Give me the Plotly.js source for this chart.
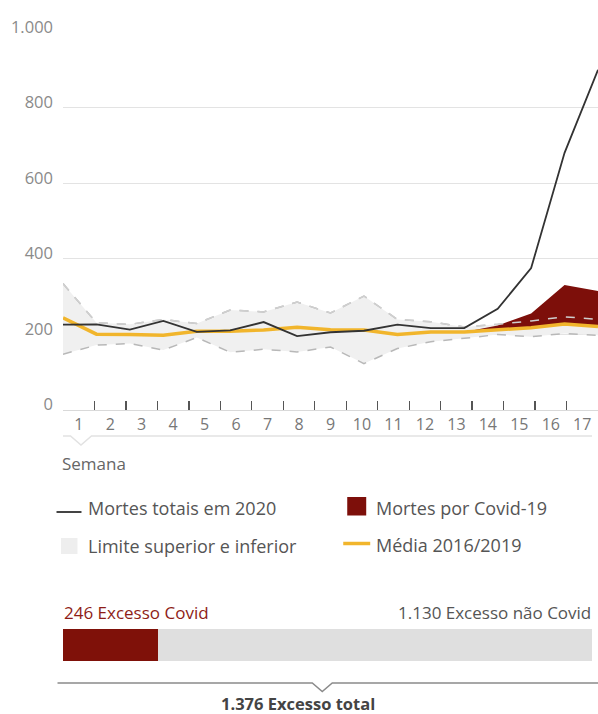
<!DOCTYPE html>
<html>
<head>
<meta charset="utf-8">
<script src="https://cdn.plot.ly/plotly-3.0.1.min.js"></script>
<style>
  html, body { margin: 0; padding: 0; background: #ffffff; }
  #chart { width: 598px; height: 714px; }
</style>
</head>
<body>
<div id="chart"></div>
<script>
// ---- data ----
const weeks = [1, 2, 3, 4, 5, 6, 7, 8, 9, 10, 11, 12, 13, 14, 15, 16, 17];
const weekLabels = ["1", "2", "3", "4", "5", "6", "7", "8", "9", "10", "11", "12", "13", "14", "15", "16", "17"];
const deaths2020 = [225, 226, 212, 235, 206, 210, 232, 195, 205, 209, 225, 216, 216, 267, 375, 680, 900];
const upperLimit = [334, 230, 226, 239, 228, 264, 259, 285, 256, 301, 239, 233, 219, 226, 235, 246, 239];
const lowerLimit = [147, 171, 175, 158, 191, 152, 160, 153, 166, 122, 162, 180, 189, 199, 193, 202, 197];
const average1619 = [243, 200, 199, 197, 208, 208, 211, 218, 212, 211, 199, 206, 206, 212, 217, 227, 220];
const covidDeaths = [0, 0, 0, 0, 0, 0, 0, 0, 0, 0, 0, 0, 0, 11, 38, 103, 94];
const yTickVals = [0, 200, 400, 600, 800, 1000];
const yTickText = ["0", "200", "400", "600", "800", "1.000"];
const excessCovid = 246;
const excessNonCovid = 1130;
const excessTotal = 1376;

// ---- geometry helpers (pixel -> paper) ----
const W = 598, H = 714;
const M = { l: 62.5, r: 0, t: 32, b: 6 };
const PW = W - M.l - M.r, PH = H - M.t - M.b;
const px = x => (x - M.l) / PW;
const py = y => (H - M.b - y) / PH;
const path = pts => pts.map((p, i) => (i ? 'L' : 'M') + px(p[0]).toFixed(5) + ',' + py(p[1]).toFixed(5)).join(' ');

const RED = '#7d0f0a';
const YELLOW = '#f1b52c';
const BAND = '#f0f0f0';
const DASH = '#b8b8b8';

// red area only where covid deaths exist (from week 13)
const startIdx = 12;
const redX = weeks.slice(startIdx);
const redBase = average1619.slice(startIdx);
const redTop = redBase.map((v, i) => v + covidDeaths[startIdx + i]);

const traces = [
  { x: weeks, y: lowerLimit, type: 'scatter', mode: 'lines', line: { color: DASH, width: 1.5, dash: 'dash' }, hoverinfo: 'skip', showlegend: false },
  { x: weeks, y: upperLimit, type: 'scatter', mode: 'lines', fill: 'tonexty', fillcolor: BAND, line: { color: DASH, width: 1.5, dash: 'dash' }, hoverinfo: 'skip', showlegend: false },
  { x: redX, y: redBase, type: 'scatter', mode: 'lines', line: { width: 0, color: RED }, hoverinfo: 'skip', showlegend: false },
  { x: redX, y: redTop, type: 'scatter', mode: 'lines', fill: 'tonexty', fillcolor: RED, line: { width: 0, color: RED }, hoverinfo: 'skip', showlegend: false },
  { x: weeks, y: upperLimit, type: 'scatter', mode: 'lines', line: { color: '#cfcfcf', width: 1.5, dash: 'dash' }, hoverinfo: 'skip', showlegend: false },
  { x: weeks, y: average1619, type: 'scatter', mode: 'lines', line: { color: YELLOW, width: 3.5 }, hoverinfo: 'skip', showlegend: false },
  { x: weeks, y: deaths2020, type: 'scatter', mode: 'lines', line: { color: '#333333', width: 1.8 }, hoverinfo: 'skip', showlegend: false },
  // category axis carrier for week labels
  { x: weekLabels, y: lowerLimit, xaxis: 'x2', yaxis: 'y', type: 'scatter', mode: 'markers', marker: { opacity: 0, size: 1 }, hoverinfo: 'skip', showlegend: false },
  // bottom excess bar
  { x: [excessCovid], y: ['excesso'], xaxis: 'x3', yaxis: 'y3', type: 'bar', orientation: 'h', marker: { color: '#7f1109', line: { width: 0 } }, hoverinfo: 'skip', showlegend: false },
  { x: [excessNonCovid], y: ['excesso'], xaxis: 'x3', yaxis: 'y3', type: 'bar', orientation: 'h', marker: { color: '#dfdfdf', line: { width: 0 } }, hoverinfo: 'skip', showlegend: false }
];

const FONT = '"Open Sans", "Noto Sans", sans-serif';
const ann = (x, y, text, opts) => Object.assign({
  x: px(x), y: py(y), xref: 'paper', yref: 'paper', text: text, showarrow: false,
  xanchor: 'left', yanchor: 'middle', font: { family: FONT, size: 18, color: '#555555' }
}, opts || {});

const layout = {
  width: W, height: H,
  margin: M,
  paper_bgcolor: '#ffffff', plot_bgcolor: 'rgba(0,0,0,0)',
  showlegend: false,
  barmode: 'stack', bargap: 0,
  font: { family: FONT, color: '#555555' },
  xaxis: { domain: [0, 1], range: [1, 17], visible: false, fixedrange: true },
  xaxis2: {
    type: 'category', overlaying: 'x', anchor: 'y', side: 'bottom',
    categoryorder: 'array', categoryarray: weekLabels, range: [-0.5, 16.5],
    tickson: 'boundaries', ticks: 'inside', ticklen: 9, tickcolor: '#555555', tickwidth: 1.3,
    showline: true, linecolor: '#d9d9d9', linewidth: 1.5, showgrid: false, zeroline: false,
    tickfont: { family: FONT, size: 16, color: '#777777' }, ticklabelstandoff: 0, fixedrange: true
  },
  yaxis: {
    domain: [py(409.7), 1], range: [0, 1000],
    tickmode: 'array', tickvals: yTickVals, ticktext: yTickText,
    showgrid: true, gridcolor: '#e3e3e3', gridwidth: 1, zeroline: false, showline: false, ticks: '',
    tickfont: { family: FONT, size: 16.5, color: '#8a8a8a' }, ticklabelstandoff: 9, ticklabelshift: -5, fixedrange: true
  },
  xaxis3: { domain: [0, px(592)], range: [0, excessTotal], anchor: 'y3', visible: false, fixedrange: true },
  yaxis3: { domain: [py(661), py(629)], range: [-0.5, 0.5], anchor: 'x3', visible: false, fixedrange: true },
  shapes: [
    // pointer line under week labels
    { type: 'path', xref: 'paper', yref: 'paper', path: path([[62.5, 436], [70, 436], [80.5, 445], [91, 436], [592, 436]]), line: { color: '#e2e2e2', width: 1.5 } },
    // legend symbols
    { type: 'line', xref: 'paper', yref: 'paper', x0: px(56), x1: px(81), y0: py(512), y1: py(512), line: { color: '#444444', width: 2 } },
    { type: 'rect', xref: 'paper', yref: 'paper', x0: px(347), x1: px(366), y0: py(515.5), y1: py(497), fillcolor: RED, line: { width: 0 } },
    { type: 'rect', xref: 'paper', yref: 'paper', x0: px(60.5), x1: px(77), y0: py(554), y1: py(538), fillcolor: '#eeeeee', line: { width: 0 } },
    { type: 'line', xref: 'paper', yref: 'paper', x0: px(343), x1: px(370), y0: py(543.5), y1: py(543.5), line: { color: YELLOW, width: 3.5 } },
    // total bracket line
    { type: 'path', xref: 'paper', yref: 'paper', path: path([[57, 683], [312, 683], [322, 691.5], [332, 683], [598, 683]]), line: { color: '#8a8a8a', width: 1.5 } }
  ],
  annotations: [
    ann(59, 464, 'Semana', { font: { family: FONT, size: 17, color: '#666666' } }),
    ann(86, 508, 'Mortes totais em 2020'),
    ann(86, 546, 'Limite superior e inferior'),
    ann(374, 508, 'Mortes por Covid-19'),
    ann(374, 545, 'Média 2016/2019'),
    ann(61, 612, excessCovid + ' Excesso Covid', { font: { family: FONT, size: 17, color: '#8e1c17' } }),
    ann(593, 612, '1.130 Excesso não Covid', { xanchor: 'right', font: { family: FONT, size: 17, color: '#555555' } }),
    ann(298, 703, '<b>1.376 Excesso total</b>', { xanchor: 'center', font: { family: FONT, size: 16.5, color: '#444444' } })
  ]
};

Plotly.newPlot('chart', traces, layout, { staticPlot: true, displayModeBar: false });
</script>
</body>
</html>
